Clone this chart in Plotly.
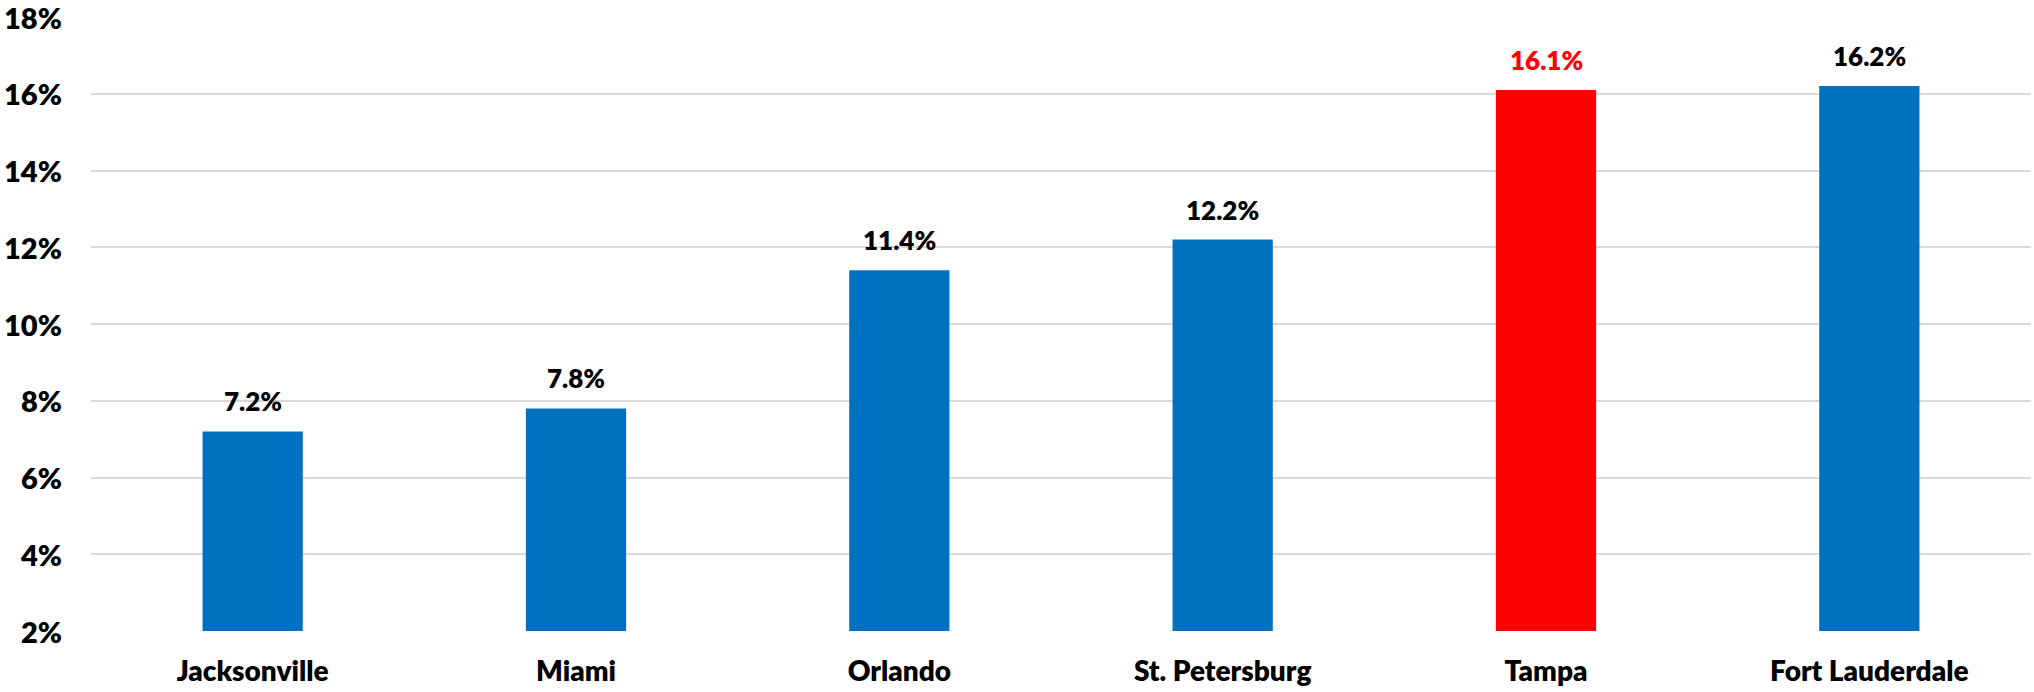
import plotly.graph_objects as go

cities = ["Jacksonville", "Miami", "Orlando", "St. Petersburg", "Tampa", "Fort Lauderdale"]
values = [7.2, 7.8, 11.4, 12.2, 16.1, 16.2]
bar_colors = ["#0070C0", "#0070C0", "#0070C0", "#0070C0", "#FF0000", "#0070C0"]
label_colors = ["#000000", "#000000", "#000000", "#000000", "#FF0000", "#000000"]
y_ticks = [2, 4, 6, 8, 10, 12, 14, 16, 18]

FONT = "Lato"
WEIGHT = 800
BASE = 2

fig = go.Figure(go.Bar(
    x=cities,
    y=[v - BASE for v in values],
    base=BASE,
    marker=dict(color=bar_colors, line=dict(width=0)),
))

for c, v, col in zip(cities, values, label_colors):
    fig.add_annotation(
        x=c, y=v, text=f"{v:.1f}%", showarrow=False,
        yanchor="bottom", yshift=12,
        font=dict(family=FONT, size=26, color=col, weight=WEIGHT),
    )

# y tick labels as annotations so the top one isn't dropped at the edge
for t in y_ticks:
    fig.add_annotation(
        xref="paper", x=0, y=t, text=f"{t}%", showarrow=False,
        xanchor="right", yanchor="middle", xshift=-27,
        font=dict(family=FONT, size=29, color="black", weight=WEIGHT),
    )

fig.update_layout(
    width=2034, height=692,
    margin=dict(l=91, r=3, t=17, b=61, autoexpand=False),
    plot_bgcolor="white", paper_bgcolor="white",
    bargap=0.69,
    showlegend=False,
    font=dict(family=FONT, size=26, color="black", weight=WEIGHT),
)
fig.update_yaxes(
    range=[BASE, 18], tickvals=y_ticks, showticklabels=False,
    showgrid=True, gridcolor="#d9d9d9", gridwidth=1.5,
    zeroline=False, showline=False, automargin=False,
)
fig.update_xaxes(
    showgrid=False, showline=False, ticks="", automargin=False,
    ticklabelstandoff=21,
    tickfont=dict(family=FONT, size=28, color="black", weight=WEIGHT),
)

# drop the default 8px body margin so the figure fills the window
fig.write_html(
    "out.html",
    config={"displayModeBar": False},
    post_script="document.body.style.margin='0';",
)
